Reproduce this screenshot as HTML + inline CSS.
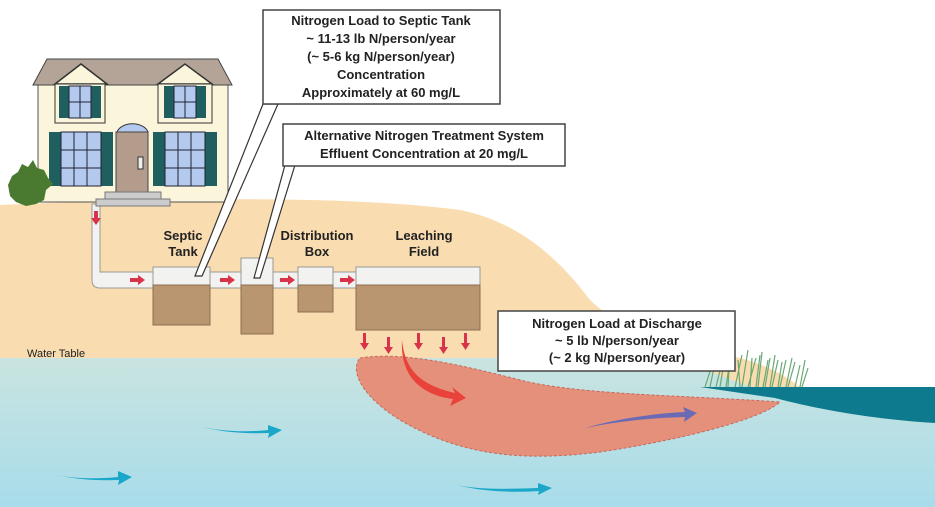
<!DOCTYPE html>
<html><head><meta charset="utf-8"><style>
html,body{margin:0;padding:0;background:#fff;}
svg{display:block;}
text{font-family:"Liberation Sans",Arial,sans-serif;font-weight:bold;fill:#222;}
</style></head><body>
<svg width="935" height="507" viewBox="0 0 935 507" xmlns="http://www.w3.org/2000/svg">
<defs>
<linearGradient id="wat" x1="0" y1="0" x2="0" y2="1">
<stop offset="0" stop-color="#c9e4e0"/><stop offset="1" stop-color="#a8dcea"/>
</linearGradient>
</defs>
<rect width="935" height="507" fill="#fff"/>
<!-- sand -->
<path d="M0,205 C150,198 350,195 460,210 C520,222 560,260 590,300 C620,330 680,345 740,358 C770,366 790,378 805,392 L0,398 Z" fill="#f9dcb0"/>
<!-- water -->
<path d="M0,358 L680,358 C710,372 740,385 780,395 L935,400 L935,507 L0,507 Z" fill="url(#wat)"/>
<!-- lake -->
<path d="M700,387 L935,387 L935,423 C880,420 820,410 775,398 Z" fill="#0d7a8e"/>
<!-- grass -->
<g stroke="#6aa874" stroke-width="1.2" fill="none">
<path d="M705,387 L712,365 M710,387 L716,358 M716,387 L722,362 M720,387 L725,356 M726,387 L730,360 M728,387 L730,352 M735,387 L742,355 M740,387 L738,360 M742,387 L748,350 M748,387 L756,358 M750,387 L752,358 M756,387 L760,355 M758,387 L762,352 M763,387 L768,360 M765,387 L770,358 M770,387 L775,355 M772,387 L778,360 M778,387 L782,362 M780,387 L786,360 M786,387 L792,358 M788,387 L795,362 M795,387 L800,365 M800,387 L805,360 M802,387 L808,368"/>
</g>
<!-- plume -->
<path d="M360,358 C400,352 450,362 520,380 C580,395 680,395 780,402 C760,420 680,440 600,452 C520,462 460,455 400,420 C360,395 350,370 360,358 Z" fill="#e5907a" stroke="#c8675a" stroke-dasharray="3,2" stroke-width="1"/>
<path d="M402,340 C405,370 420,385 455,393 L452,387 L466,398 L450,406 L453,399 C420,395 400,375 402,340 Z" fill="#e8423a"/>
<path d="M585,428 C620,418 660,413 685,412 L683,407 L697,413 L684,422 L685,417 C650,418 620,421 585,428 Z" fill="#6a6bb4"/>
<path d="M203,427 C225,432 250,432 268,430 L268,425 L282,430 L268,438 L269,433 C245,434 222,432 203,427 Z" fill="#1aa7c9"/>
<path d="M52,474 C70,479 100,479 118,477 L118,471 L132,477 L118,485 L119,480 C95,481 72,479 52,474 Z" fill="#1aa7c9"/>
<path d="M457,485 C480,490 510,489 538,488 L538,483 L552,488 L538,495 L539,491 C510,493 480,491 457,485 Z" fill="#1aa7c9"/>
<text x="27" y="357" font-size="11" style="font-weight:normal" fill="#333">Water Table</text>
<!-- pipe -->
<path d="M92,204 L92,280 Q92,288 100,288 L480,288 L480,272 L100,272 L100,204 Z" fill="#f2f2f0" stroke="#999" stroke-width="1"/>
<rect x="153" y="267" width="57" height="18" fill="#f2f2f0" stroke="#999"/>
<rect x="153" y="285" width="57" height="40" fill="#b99670" stroke="#8a6f52"/>
<rect x="241" y="258" width="32" height="27" fill="#f2f2f0" stroke="#999"/>
<rect x="241" y="285" width="32" height="49" fill="#b99670" stroke="#8a6f52"/>
<rect x="298" y="267" width="35" height="18" fill="#f2f2f0" stroke="#999"/>
<rect x="298" y="285" width="35" height="27" fill="#b99670" stroke="#8a6f52"/>
<rect x="356" y="267" width="124" height="18" fill="#f2f2f0" stroke="#999"/>
<rect x="356" y="285" width="124" height="45" fill="#b99670" stroke="#8a6f52"/>
<g fill="#d8334a">
<path d="M94,211 h4 v7 h3 l-5,7 l-5,-7 h3 z"/>
<path d="M130,278 h8 v-3 l7,5 l-7,5 v-3 h-8 z"/>
<path d="M220,278 h8 v-3 l7,5 l-7,5 v-3 h-8 z"/>
<path d="M280,278 h8 v-3 l7,5 l-7,5 v-3 h-8 z"/>
<path d="M340,278 h8 v-3 l7,5 l-7,5 v-3 h-8 z"/>
<path d="M363,333 h3 v10 h3 l-4.5,7 l-4.5,-7 h3 z"/>
<path d="M387,337 h3 v10 h3 l-4.5,7 l-4.5,-7 h3 z"/>
<path d="M417,333 h3 v10 h3 l-4.5,7 l-4.5,-7 h3 z"/>
<path d="M442,337 h3 v10 h3 l-4.5,7 l-4.5,-7 h3 z"/>
<path d="M464,333 h3 v10 h3 l-4.5,7 l-4.5,-7 h3 z"/>
</g>
<text x="183" y="240" font-size="13" text-anchor="middle">Septic</text>
<text x="183" y="256" font-size="13" text-anchor="middle">Tank</text>
<text x="317" y="240" font-size="13" text-anchor="middle">Distribution</text>
<text x="317" y="256" font-size="13" text-anchor="middle">Box</text>
<text x="424" y="240" font-size="13" text-anchor="middle">Leaching</text>
<text x="424" y="256" font-size="13" text-anchor="middle">Field</text>
<!-- house -->
<rect x="38" y="84" width="190" height="118" fill="#fbf5dc" stroke="#555" stroke-width="1"/>
<polygon points="33,85 47,59 218,59 232,85" fill="#b4a497" stroke="#444"/>
<polygon points="55,84 81,64 107,84" fill="#fbf5dc" stroke="#333" stroke-width="1.5"/>
<polygon points="158,84 185,64 212,84" fill="#fbf5dc" stroke="#333" stroke-width="1.5"/>
<rect x="55" y="84" width="50" height="39" fill="#fbf5dc" stroke="#333"/>
<rect x="158" y="84" width="54" height="39" fill="#fbf5dc" stroke="#333"/>
<g fill="#1f5f60">
<rect x="59" y="86" width="10" height="32"/><rect x="91" y="86" width="10" height="32"/>
<rect x="164" y="86" width="10" height="32"/><rect x="196" y="86" width="10" height="32"/>
<rect x="49" y="132" width="12" height="54"/><rect x="101" y="132" width="12" height="54"/>
<rect x="153" y="132" width="12" height="54"/><rect x="205" y="132" width="12" height="54"/>
</g>
<g fill="#b3c9ee" stroke="#223" stroke-width="1">
<rect x="69" y="86" width="22" height="32"/><rect x="174" y="86" width="22" height="32"/>
<rect x="61" y="132" width="40" height="54"/><rect x="165" y="132" width="40" height="54"/>
</g>
<g stroke="#223" stroke-width="1">
<line x1="80" y1="86" x2="80" y2="118"/><line x1="69" y1="102" x2="91" y2="102"/>
<line x1="185" y1="86" x2="185" y2="118"/><line x1="174" y1="102" x2="196" y2="102"/>
<line x1="74" y1="132" x2="74" y2="186"/><line x1="87" y1="132" x2="87" y2="186"/><line x1="61" y1="150" x2="101" y2="150"/><line x1="61" y1="168" x2="101" y2="168"/>
<line x1="178" y1="132" x2="178" y2="186"/><line x1="191" y1="132" x2="191" y2="186"/><line x1="165" y1="150" x2="205" y2="150"/><line x1="165" y1="168" x2="205" y2="168"/>
</g>
<path d="M117,132 A16,11 0 0 1 148,132 Z" fill="#b3c9ee" stroke="#333"/>
<rect x="116" y="132" width="32" height="60" fill="#b49c8c" stroke="#444"/>
<rect x="138" y="157" width="5" height="12" fill="#eee" stroke="#333"/>
<rect x="105" y="192" width="56" height="7" fill="#ccc" stroke="#777"/>
<rect x="96" y="199" width="74" height="7" fill="#ccc" stroke="#777"/>
<path d="M8,185 L12,176 L18,172 L22,164 L28,167 L33,160 L37,168 L44,170 L48,178 L53,184 L46,190 L44,200 L36,204 L26,206 L16,202 L10,196 Z" fill="#4a7a30"/>
<polygon points="263,104 278,104 202,276 195,276" fill="#fff" stroke="#333" stroke-width="1.2"/>
<polygon points="285,165 295,165 260,278 254,278" fill="#fff" stroke="#333" stroke-width="1.2"/>
<rect x="263" y="10" width="237" height="94" fill="#fff" stroke="#444" stroke-width="1.5"/>
<g font-size="13" text-anchor="middle">
<text x="381" y="25">Nitrogen Load to Septic Tank</text>
<text x="381" y="43">~ 11-13 lb N/person/year</text>
<text x="381" y="61">(~ 5-6 kg N/person/year)</text>
<text x="381" y="79">Concentration</text>
<text x="381" y="97">Approximately at 60 mg/L</text>
</g>
<rect x="283" y="124" width="282" height="42" fill="#fff" stroke="#444" stroke-width="1.5"/>
<g font-size="13" text-anchor="middle">
<text x="424" y="140">Alternative Nitrogen Treatment System</text>
<text x="424" y="158">Effluent Concentration at 20 mg/L</text>
</g>
<rect x="498" y="311" width="237" height="60" fill="#fff" stroke="#444" stroke-width="1.5"/>
<g font-size="13" text-anchor="middle">
<text x="617" y="328">Nitrogen Load at Discharge</text>
<text x="617" y="345">~ 5 lb N/person/year</text>
<text x="617" y="362">(~ 2 kg N/person/year)</text>
</g>
</svg>
</body></html>
